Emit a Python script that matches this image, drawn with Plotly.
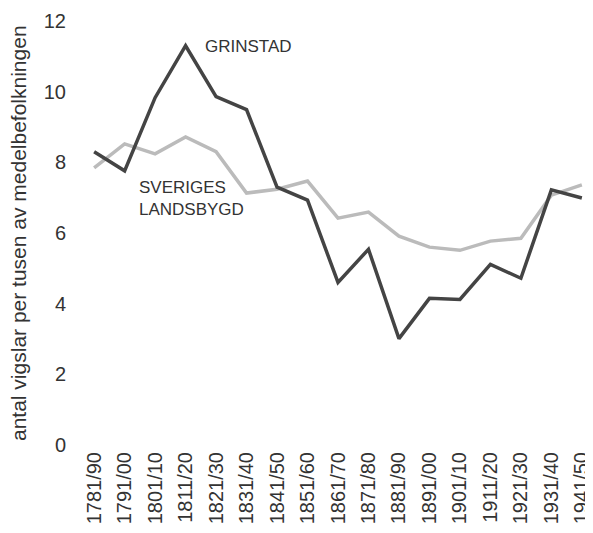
import plotly.graph_objects as go

periods = ["1781/90", "1791/00", "1801/10", "1811/20", "1821/30", "1831/40", "1841/50",
           "1851/60", "1861/70", "1871/80", "1881/90", "1891/00", "1901/10", "1911/20",
           "1921/30", "1931/40", "1941/50"]
grinstad = [8.3, 7.76, 9.83, 11.3, 9.86, 9.49, 7.3, 6.93, 4.6, 5.54, 3.01, 4.15, 4.12,
            5.11, 4.72, 7.22, 6.99]
landsbygd = [7.84, 8.52, 8.24, 8.72, 8.3, 7.13, 7.24, 7.47, 6.42, 6.59, 5.91, 5.6, 5.51,
             5.77, 5.85, 7.07, 7.36]
y_ticks = [0, 2, 4, 6, 8, 10, 12]

FONT = "Liberation Sans"
TXT = "#333333"

xs = list(range(len(periods)))

fig = go.Figure()
fig.add_trace(go.Scatter(x=xs, y=landsbygd, mode="lines",
                         line=dict(color="#bbbbbb", width=3.5), showlegend=False))
fig.add_trace(go.Scatter(x=xs, y=grinstad, mode="lines",
                         line=dict(color="#444444", width=3.5), showlegend=False))

fig.add_annotation(x=3.57, y=11.29, xref="x", yref="y", text="GRINSTAD", showarrow=False,
                   xanchor="left", yanchor="middle", font=dict(family=FONT, size=17, color=TXT))
fig.add_annotation(x=1.41, y=6.99, xref="x", yref="y", text="SVERIGES<br>LANDSBYGD",
                   showarrow=False, xanchor="left", yanchor="middle", align="left",
                   font=dict(family=FONT, size=17, color=TXT))

# figure is drawn inside the page's default 8px body margin
W, H = 585, 525
L, R, T, B = 77, 2, 13, 88
plot_w = W - L - R
fig.add_annotation(x=(10 - L) / plot_w, y=0.5, xref="paper", yref="paper",
                   text="antal vigslar per tusen av medelbefolkningen", textangle=-90,
                   showarrow=False, xanchor="center", yanchor="middle",
                   font=dict(family=FONT, size=21, color=TXT))

fig.update_layout(
    width=W, height=H,
    margin=dict(l=L, r=R, t=T, b=B, autoexpand=False),
    paper_bgcolor="white", plot_bgcolor="white",
    font=dict(family=FONT, color=TXT),
    xaxis=dict(range=[-0.3, 16.3], tickmode="array", tickvals=xs,
               ticktext=periods, tickangle=-90, showgrid=False, zeroline=False,
               showline=False, ticks="", automargin=False, ticklabelstandoff=2,
               tickfont=dict(family=FONT, size=20, color=TXT)),
    yaxis=dict(range=[0, 12], tickmode="array", tickvals=y_ticks,
               ticktext=[str(v) for v in y_ticks], showgrid=False, zeroline=False,
               showline=False, ticks="", ticklabelstandoff=18, automargin=False,
               tickfont=dict(family=FONT, size=20, color=TXT)),
)

fig.write_html("out.html")
